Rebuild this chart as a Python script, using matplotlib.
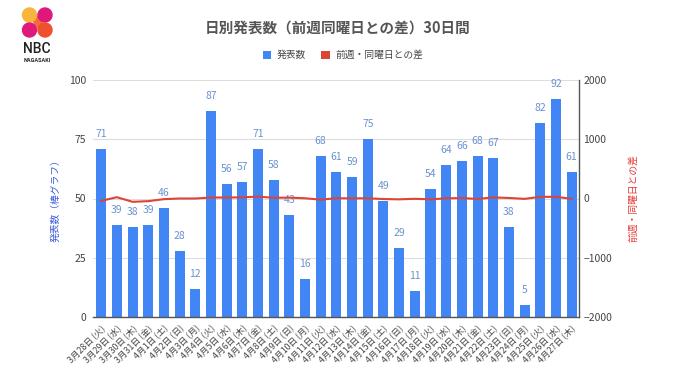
import matplotlib
matplotlib.use("Agg")
import matplotlib.pyplot as plt
from matplotlib.patches import Patch, Circle, Polygon
import numpy as np

plt.rcParams['font.family'] = ['Noto Sans CJK JP', 'DejaVu Sans']

dates = ["3月28日 (火)", "3月29日 (水)", "3月30日 (木)", "3月31日 (金)", "4月1日 (土)", "4月2日 (日)",
         "4月3日 (月)", "4月4日 (火)", "4月5日 (水)", "4月6日 (木)", "4月7日 (金)", "4月8日 (土)",
         "4月9日 (日)", "4月10日 (月)", "4月11日 (火)", "4月12日 (水)", "4月13日 (木)", "4月14日 (金)",
         "4月15日 (土)", "4月16日 (日)", "4月17日 (月)", "4月18日 (火)", "4月19日 (水)", "4月20日 (木)",
         "4月21日 (金)", "4月22日 (土)", "4月23日 (日)", "4月24日 (月)", "4月25日 (火)", "4月26日 (水)",
         "4月27日 (木)"]
counts = [71, 39, 38, 39, 46, 28, 12, 87, 56, 57, 71, 58, 43, 16, 68, 61, 59, 75, 49, 29, 11,
          54, 64, 66, 68, 67, 38, 5, 82, 92, 61]
diffs = [-40, 22, -56, -45, -11, 0, 0, 16, 17, 19, 32, 12, 15, 4, -19, 5, 2, 4, -9, -14, -5,
         -14, 3, 7, -7, 18, 9, -6, 28, 28, -5]
left_ticks = [0, 25, 50, 75, 100]
right_ticks = [-2000, -1000, 0, 1000, 2000]

W, H = 680, 382
fig = plt.figure(figsize=(6.8, 3.82), dpi=100)
fig.patch.set_facecolor('white')

ax = fig.add_axes([93 / W, 1 - 317 / H, 486 / W, 237 / H])
x = np.arange(len(counts))
ax.bar(x, counts, width=0.64, color='#4285F4', zorder=2)
for xi, v in zip(x, counts):
    ax.text(xi, v + 4.2, str(v), ha='center', va='bottom', fontsize=7.5, color='#6a93cf', zorder=4)
ax.set_xlim(-0.52, 30.47)
ax.set_ylim(0, 100)
ax.set_yticks(left_ticks)
ax.tick_params(axis='y', length=0, labelsize=7.5, labelcolor='#444444', pad=5)
ax.grid(axis='y', color='#dddddd', linewidth=0.8, zorder=0)
ax.set_axisbelow(True)
for s in ['left', 'top', 'right']:
    ax.spines[s].set_visible(False)
ax.spines['bottom'].set_color('#555555')
ax.spines['bottom'].set_linewidth(1.0)
ax.spines['bottom'].set_zorder(3)
ax.set_xticks(x)
ax.set_xticklabels(dates, rotation=45, ha='right', rotation_mode='anchor',
                   fontsize=6.3, color='#444444')
ax.tick_params(axis='x', length=0, pad=5)
ax.set_ylabel('発表数（棒グラフ）', color='#3a5bd9', fontsize=7, labelpad=6)

ax2 = ax.twinx()
ax2.plot(x, diffs, color='#DB4437', linewidth=1.5, zorder=5)
ax2.set_ylim(-2000, 2000)
ax2.set_yticks(right_ticks)
ax2.tick_params(axis='y', length=0, labelsize=7.5, labelcolor='#444444', pad=3)
for s in ['left', 'top', 'bottom']:
    ax2.spines[s].set_visible(False)
ax2.spines['right'].set_color('#555555')
ax2.spines['right'].set_linewidth(1.0)
ax2.set_ylabel('前週・同曜日との差', color='#e53935', fontsize=7, rotation=90, labelpad=12)

fig.text(338 / W, 1 - 28 / H, '日別発表数（前週同曜日との差）30日間', ha='center', va='center',
         fontsize=10.5, color='#555555', fontweight='bold')

handles = [Patch(facecolor='#4285F4', label='発表数'), Patch(facecolor='#DB4437', label='前週・同曜日との差')]
fig.legend(handles=handles, loc='center', bbox_to_anchor=(343 / W, 1 - 55 / H), ncol=2, frameon=False,
           fontsize=7, handlelength=0.9, handleheight=0.9, columnspacing=1.5, handletextpad=0.6,
           labelcolor='#444444')

# logo
lax = fig.add_axes([0, 1 - 70 / H, 75 / W, 70 / H])
lax.set_xlim(0, 75)
lax.set_ylim(70, 0)
lax.set_aspect('equal')
lax.axis('off')
lax.add_patch(Polygon([[26, 12], [32, 10], [48, 30], [42, 33]], closed=True, color='#f26b3a', zorder=1))
lax.add_patch(Circle((29.5, 15), 7, color='#f8b53c', zorder=2))
lax.add_patch(Circle((45, 15), 7, color='#e0187a', zorder=2))
lax.add_patch(Circle((29.5, 30), 7, color='#e0187a', zorder=2))
lax.add_patch(Circle((45, 30), 7, color='#f0502e', zorder=2))
lax.text(37, 49, 'NBC', ha='center', va='center', fontsize=10, color='#222222',
         family=['Roboto', 'DejaVu Sans'], fontweight='medium')
lax.text(37, 61, 'NAGASAKI', ha='center', va='center', fontsize=4, color='#222222',
         family=['Roboto', 'DejaVu Sans'], fontweight='bold')

fig.savefig('out.png', dpi=100, facecolor='white')
